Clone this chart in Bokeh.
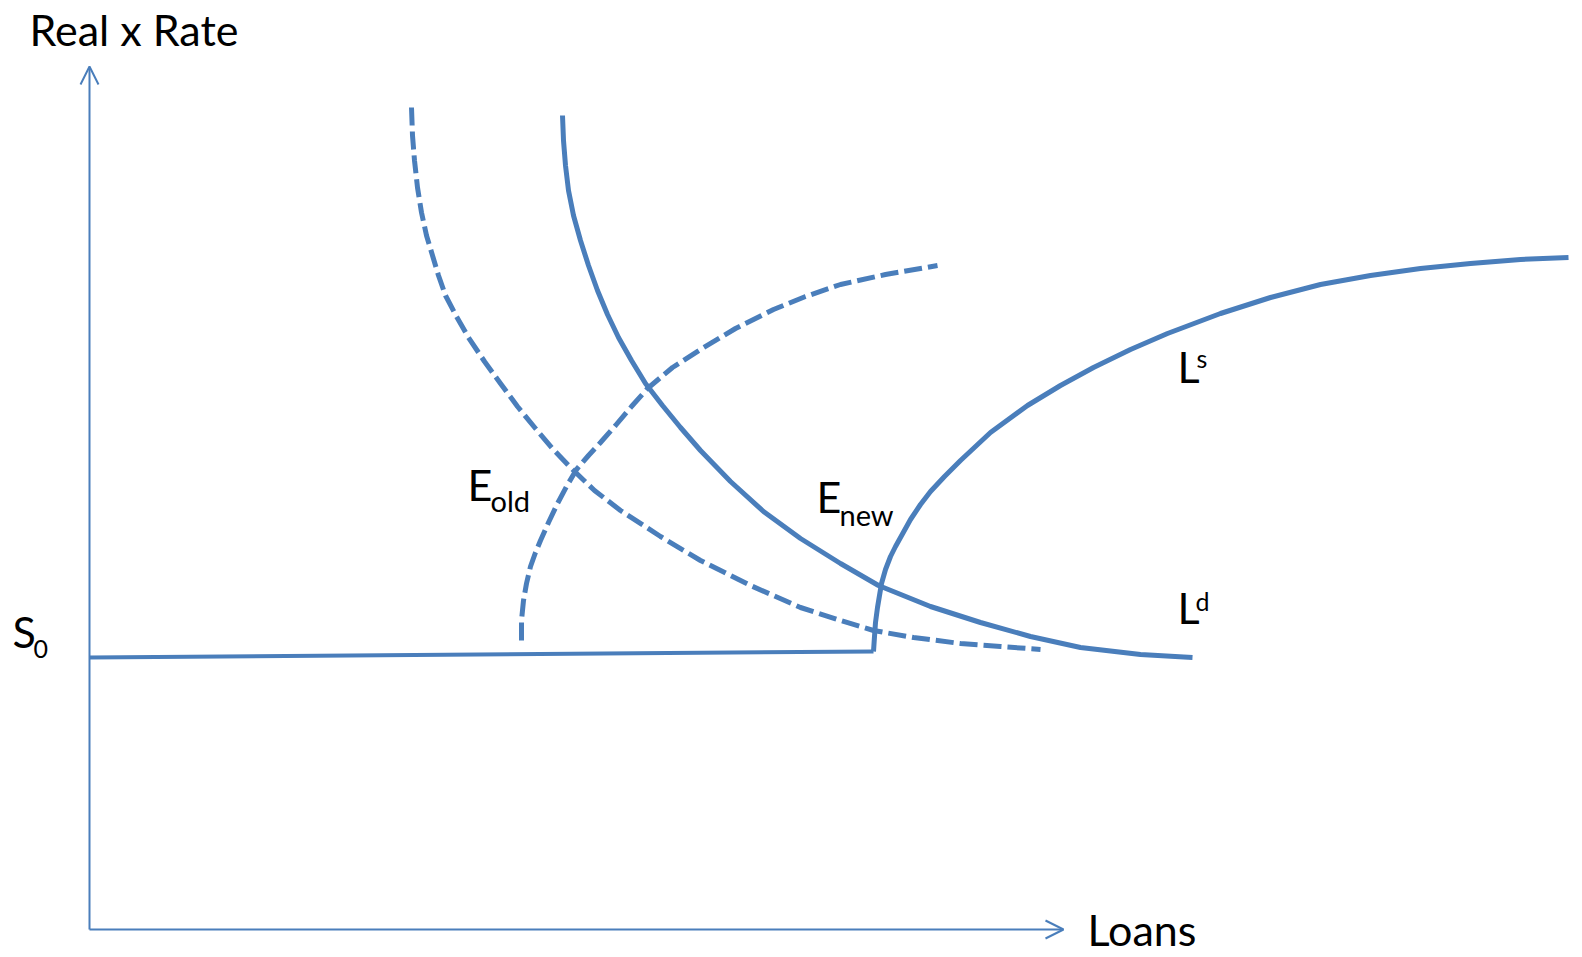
from bokeh.plotting import figure
from bokeh.models import Range1d, Arrow, OpenHead, ColumnDataSource
from bokeh.core.properties import value
from bokeh.embed import file_html
from bokeh.resources import INLINE

# ---------------- data (axis units: origin at the axes corner) ----------------
axis_x_max = 974
axis_y_max = 863

s0_level_x = [0, 784]
s0_level_y = [272, 278]

ld_new_x = [473, 474, 476, 479, 484, 491, 499, 508, 518, 529, 542, 556, 573, 591,
            611, 641, 674, 711, 751, 789, 841, 891, 941, 991, 1051, 1103]
ld_new_y = [814, 789, 764, 739, 714, 689, 664, 639, 615, 592, 569, 546, 524, 502,
            479, 448, 418, 391, 366, 344, 323, 307, 293, 282, 275, 272]

ld_old_x = [322, 323, 325, 328, 332, 337, 343, 349, 356, 367, 379, 395, 411, 428, 446,
            463, 481, 505, 531, 571, 611, 661, 711, 751, 784, 824, 871, 911, 951]
ld_old_y = [822, 794, 769, 742, 717, 694, 674, 654, 634, 613, 592, 568, 546, 523, 501,
            481, 462, 439, 419, 393, 369, 344, 322, 309, 299, 292, 286, 283, 280]

ls_old_x = [432, 432, 434, 437, 441, 446, 451, 459, 468, 477, 487, 499, 511, 526, 542,
            558, 583, 611, 646, 684, 716, 751, 796, 848]
ls_old_y = [289, 309, 329, 346, 363, 377, 389, 407, 426, 443, 460, 474, 487, 504, 523,
            541, 562, 580, 601, 620, 633, 645, 655, 664]

ls_new_x = [784, 785, 786, 788, 790, 792, 796, 801, 806, 811, 821, 831, 841, 855, 871,
            901, 938, 971, 1004, 1041, 1078, 1131, 1181, 1231, 1281, 1331, 1381, 1431, 1479]
ls_new_y = [278, 293, 307, 322, 334, 346, 360, 373, 383, 392, 410, 425, 438, 453, 469,
            497, 524, 544, 562, 580, 596, 616, 632, 645, 654, 661, 666, 670, 672]

main_labels = ["Real x Rate", "Loans", "S", "E", "E", "L", "L"]
main_x = [-60, 998, -77, 378, 727, 1088, 1088]
main_y = [884, -16, 282, 429, 417, 306, 547]

sub_labels = ["old", "new"]
sub_x = [401, 750]
sub_y = [418, 404]

small_labels = ["0", "d"]
small_x = [-56, 1106]
small_y = [271, 319]

tiny_labels = ["s"]
tiny_x = [1107]
tiny_y = [562]

# ---------------- styling ----------------
BLUE = "#4A7EBB"
FONT = "Lato"
BASELINE_FIX = 0.38   # compensates the renderer's baseline placement

p = figure(width=1582, height=957,
           x_range=Range1d(-89, 1493), y_range=Range1d(-28, 929),
           output_backend="svg", toolbar_location=None, min_border=0,
           x_axis_type=None, y_axis_type=None)
for g in p.grid:
    g.visible = False
p.outline_line_color = None
p.background_fill_color = "white"
p.border_fill_color = "white"

# axes with open arrow heads
p.add_layout(Arrow(end=OpenHead(size=18, line_color=BLUE, line_width=2),
                   x_start=0, y_start=0, x_end=0, y_end=axis_y_max,
                   line_color=BLUE, line_width=2))
p.add_layout(Arrow(end=OpenHead(size=18, line_color=BLUE, line_width=2),
                   x_start=0, y_start=0, x_end=axis_x_max, y_end=0,
                   line_color=BLUE, line_width=2))

# curves
p.line(s0_level_x, s0_level_y, line_color=BLUE, line_width=4)
p.line(ls_new_x, ls_new_y, line_color=BLUE, line_width=5, line_join="round")
p.line(ld_new_x, ld_new_y, line_color=BLUE, line_width=5, line_join="round")
p.line(ld_old_x, ld_old_y, line_color=BLUE, line_width=5,
       line_dash="18 6", line_cap="butt", line_join="round")
p.line(ls_old_x, ls_old_y, line_color=BLUE, line_width=5,
       line_dash="18 6", line_cap="butt", line_join="round")

# labels
def add_text(xs, ys, texts, size):
    ys_fixed = [y + BASELINE_FIX * size for y in ys]
    src = ColumnDataSource(dict(x=xs, y=ys_fixed, t=texts))
    p.text(x="x", y="y", text="t", source=src, text_font=value(FONT),
           text_font_size=f"{size}px", text_color="black",
           text_align="left", text_baseline="alphabetic")

add_text(main_x, main_y, main_labels, 43)
add_text(sub_x, sub_y, sub_labels, 29)
add_text(small_x, small_y, small_labels, 25)
add_text(tiny_x, tiny_y, tiny_labels, 25)

open("out.html", "w").write(file_html(p, INLINE))
